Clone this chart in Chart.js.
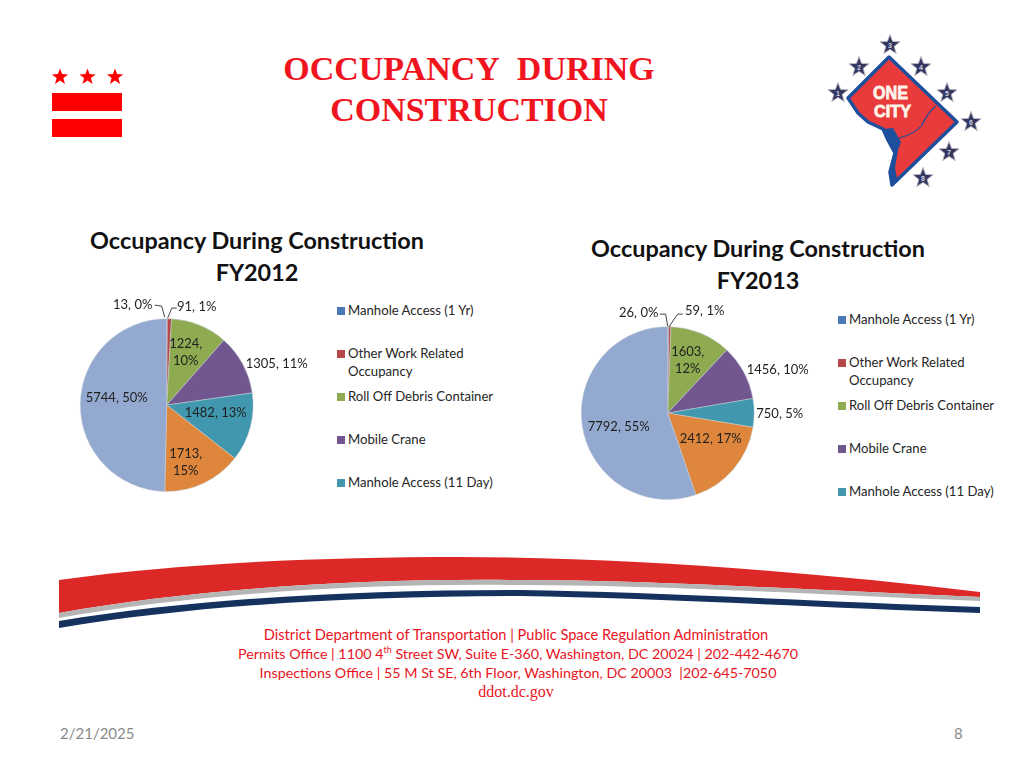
<!DOCTYPE html>
<html>
<head>
<meta charset="utf-8">
<title>Occupancy During Construction</title>
<script src="https://cdn.jsdelivr.net/npm/chart.js@4"></script>
<style>
  html, body { margin: 0; padding: 0; background: #fff; }
  #slide { position: relative; width: 1024px; height: 768px; overflow: hidden; font-family: Lato, sans-serif; }
  #slide > * { position: absolute; }
  #heading { left: 200px; width: 538px; top: 48px; text-align: center; color: #f0141e; font: bold 34px/41px "Liberation Serif", serif; }
  .chart-title { width: 394px; text-align: center; color: #111; font-weight: bold; font-size: 23.4px; line-height: 31.5px; }
  #footer { left: 118px; width: 800px; top: 626px; text-align: center; color: #e8141e; line-height: 18.8px; }
  #footer div { white-space: pre; }
  #footer .web { font-family: "Liberation Serif", serif; font-size: 16px; position: relative; left: -2px; margin-top: 1px; }
  #footer sup { font-size: 9px; line-height: 0; }
  .foot { top: 724px; color: #8a8a8a; font-size: 15px; }
  .legend-item { position: absolute; font-size: 13.15px; line-height: 17.5px; color: #262626; white-space: pre; }
  .legend-item i { position: absolute; left: -11px; top: 5px; width: 8px; height: 8px; }
</style>
</head>
<body>
<div id="slide">
  <svg id="art" width="1024" height="768" style="left:0;top:0"></svg>
  <div id="heading">OCCUPANCY&nbsp; DURING<br>CONSTRUCTION</div>
  <div class="chart-title" style="left:60px;top:225px">Occupancy During Construction<br>FY2012</div>
  <div class="chart-title" style="left:561px;top:233px">Occupancy During Construction<br>FY2013</div>
  <div style="left:60px;top:295px;width:260px;height:215px"><canvas id="chart2012"></canvas></div>
  <div style="left:561px;top:303px;width:260px;height:215px"><canvas id="chart2013"></canvas></div>
  <div id="footer">
    <div style="font-size:14.65px;position:relative;left:-2px">District Department of Transportation | Public Space Regulation Administration</div>
    <div style="font-size:14.3px">Permits Office | 1100 4<sup>th</sup> Street SW, Suite E-360, Washington, DC 20024 | 202-442-4670</div>
    <div style="font-size:14.3px">Inspections Office | 55 M St SE, 6th Floor, Washington, DC 20003  |202-645-7050</div>
    <div class="web">ddot.dc.gov</div>
  </div>
  <div class="foot" style="left:60px">2/21/2025</div>
  <div class="foot" style="left:954px">8</div>
</div>

<script>
// dados
const categorias = ['Manhole Access (1 Yr)', 'Other Work Related\nOccupancy', 'Roll Off Debris Container',
  'Mobile Crane', 'Manhole Access (11 Day)', 'Other', 'Other Occupancy'];
const valores2012 = [13, 91, 1224, 1305, 1482, 1713, 5744];
const valores2013 = [26, 59, 1603, 1456, 750, 2412, 7792];
const rotulos2012 = [['13, 0%'], ['91, 1%'], ['1224,', '10%'], ['1305, 11%'], ['1482, 13%'], ['1713,', '15%'], ['5744, 50%']];
const rotulos2013 = [['26, 0%'], ['59, 1%'], ['1603,', '12%'], ['1456, 10%'], ['750, 5%'], ['2412, 17%'], ['7792, 55%']];
const cores = ['#4a7ab5', '#b8474a', '#8fab52', '#72568f', '#4197ae', '#de873c', '#93a9d0'];
const itensLegenda = 5; // o original corta a legenda depois do quinto item

// onde cada rotulo fica em relacao ao centro da pizza
const offsets2012 = [[-34, -100], [30, -98], [19, -53], [110, -41], [49, 8], [19, 57], [-50, -7]];
const offsets2013 = [[-29, -100], [37, -102], [20, -53], [110, -43], [112, 1], [43, 26], [-49, 14]];

// linhas de chamada dos dois rotulos pequenos, relativas ao centro
const chamadas2012 = [[[-12, -100], [-5, -99], [-2, -88]], [[10, -97], [5, -97], [1, -87]]];
const chamadas2013 = [[[-8, -99], [-2, -99], [0, -87]], [[15, -99], [10, -99], [1, -86]]];

const rotulosPlugin = {
  id: 'rotulos',
  afterDatasetsDraw(chart, args, opts) {
    const { ctx } = chart;
    const arco = chart.getDatasetMeta(0).data[0];
    ctx.save();
    ctx.strokeStyle = '#444';
    ctx.lineWidth = 1;
    opts.chamadas.forEach(pts => {
      ctx.beginPath();
      pts.forEach(([dx, dy], i) => i ? ctx.lineTo(arco.x + dx, arco.y + dy) : ctx.moveTo(arco.x + dx, arco.y + dy));
      ctx.stroke();
    });
    ctx.font = '13px Lato';
    ctx.fillStyle = '#1f1f1f';
    ctx.textAlign = 'center';
    ctx.textBaseline = 'middle';
    opts.rotulos.forEach((linhas, i) => {
      const [dx, dy] = opts.offsets[i];
      linhas.forEach((txt, n) => {
        ctx.fillText(txt, arco.x + dx, arco.y + dy + (n - (linhas.length - 1) / 2) * 17);
      });
    });
    ctx.restore();
  }
};

function montarPizza(id, valores, rotulos, offsets, chamadas) {
  new Chart(document.getElementById(id), {
    type: 'pie',
    data: {
      labels: categorias,
      datasets: [{ data: valores, backgroundColor: cores, borderColor: '#c8d0d8', borderWidth: 0.5 }]
    },
    options: {
      responsive: true,
      maintainAspectRatio: false,
      animation: false,
      layout: { padding: { left: 20, right: 66.6, top: 23.4, bottom: 18.2 } },
      plugins: {
        legend: { display: false },
        tooltip: { enabled: false },
        rotulos: { rotulos, offsets, chamadas }
      }
    },
    plugins: [rotulosPlugin]
  });
}

function montarLegenda(x, y) {
  const slide = document.getElementById('slide');
  categorias.slice(0, itensLegenda).forEach((nome, i) => {
    const item = document.createElement('div');
    item.className = 'legend-item';
    item.style.left = x + 'px';
    item.style.top = (y + i * 43) + 'px';
    item.innerHTML = `<i style="background:${cores[i]}"></i>${nome}`;
    slide.appendChild(item);
  });
}

// estrela de cinco pontas para os logos
function estrela(cx, cy, r) {
  const pts = [];
  for (let i = 0; i < 10; i++) {
    const raio = i % 2 ? r * 0.42 : r;
    const ang = -Math.PI / 2 + i * Math.PI / 5;
    pts.push((cx + raio * Math.cos(ang)).toFixed(1) + ',' + (cy + raio * Math.sin(ang)).toFixed(1));
  }
  return pts.join(' ');
}

function desenharArte() {
  let s = '';
  // bandeira de DC
  [60, 87.5, 115].forEach(cx => { s += `<polygon points="${estrela(cx, 77, 8.5)}" fill="#f00"/>`; });
  s += '<rect x="52" y="93" width="70" height="18" fill="#f00"/><rect x="52" y="119" width="70" height="18" fill="#f00"/>';

  // logo One City
  s += '<path d="M889 57 L957 122 L892 185 L890 172 L895 153 L888 140 L883 129 L868 122 L858 113 L848 98 Z" fill="#e93a3c" stroke="#1d4f9c" stroke-width="3.5" stroke-linejoin="round"/>';
  s += '<path d="M883 129 L893 128 L901 142 L898 150 L895 168 L897 178 L892 184 L890 182 L891 172 L895 153 L888 140 Z" fill="#1d4f9c"/>';
  s += '<path d="M899 138 Q915 134 922 125 Q928 112 936 106" fill="none" stroke="#1d4f9c" stroke-width="1.2"/>';
  const estrelas = [[838, 93], [859, 67], [890, 45], [921, 67], [947, 93], [971, 122], [949, 152], [923, 178]];
  estrelas.forEach(([cx, cy], i) => {
    s += `<polygon points="${estrela(cx, cy, 10.5)}" fill="#33365f" stroke="#b9b4c4" stroke-width="1"/>`;
    s += `<text x="${cx}" y="${cy + 2.5}" font-size="7" font-family="Liberation Sans" font-weight="bold" fill="#cfd3e6" text-anchor="middle">${i + 1}</text>`;
  });
  s += '<text x="873" y="98.5" font-family="Liberation Sans Narrow, Liberation Sans" font-weight="bold" font-size="18" fill="#fff4ea" stroke="#fff4ea" stroke-width="0.8" textLength="35" lengthAdjust="spacingAndGlyphs">ONE</text>';
  s += '<text x="874" y="117" font-family="Liberation Sans Narrow, Liberation Sans" font-weight="bold" font-size="16" fill="#fff4ea" stroke="#fff4ea" stroke-width="0.8" textLength="37" lengthAdjust="spacingAndGlyphs">CITY</text>';

  // faixa curva acima do rodape
  s += '<path d="M59 580 C180 563 320 557 460 557 C640 558 810 572 980 592 L980 597 C810 590 650 580 520 580 C350 578 190 590 59 613 Z" fill="#dc2826"/>';
  s += '<path d="M59 613 C190 590 350 578 520 580 C650 580 810 590 980 597 L980 601 C810 594 650 585 520 585 C350 583 190 595 59 618 Z" fill="#b5b5b5"/>';
  s += '<path d="M59 621 C190 599 350 590 520 590 C650 592 810 601 980 607 L980 613 C810 607 650 598 520 596 C350 596 190 606 59 628 Z" fill="#15325f"/>';
  document.getElementById('art').innerHTML = s;
}

desenharArte();
montarPizza('chart2012', valores2012, rotulos2012, offsets2012, chamadas2012);
montarPizza('chart2013', valores2013, rotulos2013, offsets2013, chamadas2013);
montarLegenda(348, 302);
montarLegenda(849, 311);
</script>
</body>
</html>
